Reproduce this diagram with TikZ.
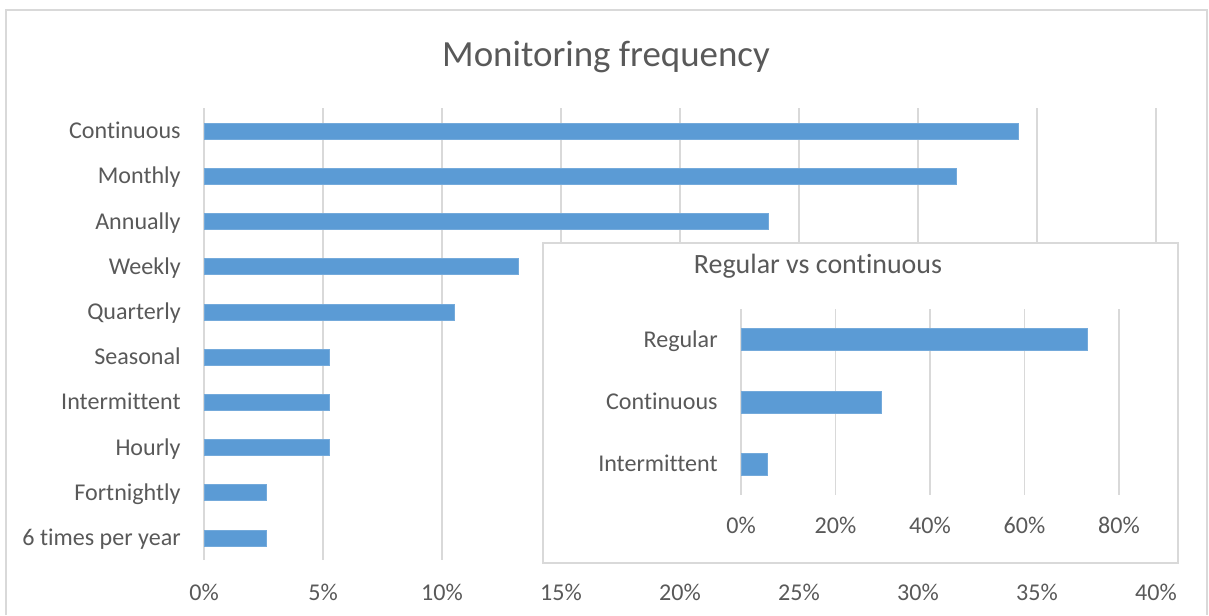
\documentclass[tikz,border=0pt]{standalone}
\usepackage{fontspec}
\setmainfont{Carlito}[Ligatures=NoCommon]
\definecolor{barblue}{HTML}{5B9BD5}
\definecolor{gridgray}{HTML}{D9D9D9}
\definecolor{textgray}{HTML}{595959}
\tikzset{
  labeltext/.style={text=textgray, font=\fontsize{13.7}{16}\selectfont, inner sep=0pt,
    text height=8.8pt, text depth=0pt},
  bar/.style={fill=barblue, draw=barblue!85!white, line width=0.3pt},
  gridline/.style={draw=gridgray, line width=0.8pt},
}
\begin{document}
\begin{tikzpicture}[x=0.02cm, y=-0.02cm]
\useasboundingbox (0,0) rectangle (1209,615);
% Frame and title
\path[draw=gridgray, line width=0.8pt] (6,615) -- (6,10) -- (1207,10) -- (1207,615);
\node[text=textgray, font=\fontsize{21}{25}\selectfont, text height=13.5pt, text depth=0pt,
  inner sep=0pt] (title) at (606,55) {Monitoring frequency};
% Main grid and axis
\foreach \k in {0,...,8} {
  \path[gridline] ({204+119*\k},108) -- ({204+119*\k},560);
  \pgfmathtruncatemacro{\pct}{5*\k}
  \node[labeltext] (tick-\k) at ({204+119*\k},593) {\pct\%};
}
% Main bars
\foreach \name/\val [count=\i] in {Continuous/34.2, Monthly/31.6, Annually/23.7,
    Weekly/13.2, Quarterly/10.5, Seasonal/5.26, Intermittent/5.26, Hourly/5.26,
    Fortnightly/2.63, 6 times per year/2.63} {
  \path[bar] (204,{131+45.2*(\i-1)-8}) rectangle ++({23.8*\val},16);
  \node[labeltext, anchor=east] (cat-\i) at (181,{131+45.2*(\i-1)}) {\name};
}
% Inset
\path[draw=gridgray, line width=0.8pt, fill=white] (543,243) rectangle (1178,563);
\node[text=textgray, font=\fontsize{15.9}{19}\selectfont, text height=10.2pt, text depth=0pt,
  inner sep=0pt] (inset-title) at (818,265) {Regular vs continuous};
\foreach \k in {0,...,4} {
  \path[gridline] ({741+94.5*\k},309) -- ({741+94.5*\k},495);
  \pgfmathtruncatemacro{\pct}{20*\k}
  \node[labeltext] (inset-tick-\k) at ({741+94.5*\k},526) {\pct\%};
}
\foreach \name/\val [count=\i] in {Regular/73.2, Continuous/29.6, Intermittent/5.5} {
  \path[bar] (741,{339.5+62.3*(\i-1)-11}) rectangle ++({4.725*\val},22);
  \node[labeltext, anchor=east] (inset-cat-\i) at (718,{339.5+62.3*(\i-1)}) {\name};
}
\end{tikzpicture}
\end{document}
